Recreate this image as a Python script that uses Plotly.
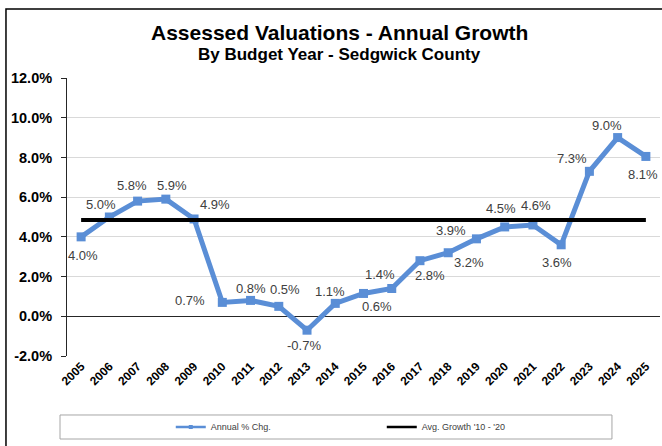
import plotly.graph_objects as go

# ---- data ----
years = ["2005", "2006", "2007", "2008", "2009", "2010", "2011", "2012", "2013", "2014",
         "2015", "2016", "2017", "2018", "2019", "2020", "2021", "2022", "2023", "2024", "2025"]
annual_pct_chg = [4.0, 5.0, 5.8, 5.9, 4.9, 0.7, 0.8, 0.5, -0.7, 0.65,
                  1.15, 1.4, 2.8, 3.2, 3.9, 4.5, 4.6, 3.6, 7.3, 9.0, 8.05]
avg_growth_10_20 = [4.85, 4.85, 4.85, 4.85, 4.85, 4.85, 4.85, 4.85, 4.85, 4.85,
                    4.85, 4.85, 4.85, 4.85, 4.85, 4.85, 4.85, 4.85, 4.85, 4.85, 4.85]
point_labels = ["4.0%", "5.0%", "5.8%", "5.9%", "4.9%", "0.7%", "0.8%", "0.5%", "-0.7%", "1.1%",
                "0.6%", "1.4%", "2.8%", "3.2%", "3.9%", "4.5%", "4.6%", "3.6%", "7.3%", "9.0%", "8.1%"]
y_tick_values = [-2, 0, 2, 4, 6, 8, 10, 12]
y_tick_labels = ["-2.0%", "0.0%", "2.0%", "4.0%", "6.0%", "8.0%", "10.0%", "12.0%"]

# ---- styling ----
FONT = "Liberation Sans, Arial, sans-serif"
BLUE = "#5A8ED6"
# label offsets (pixels: dx right, dy down) for manual data-label placement
label_offsets = [(2, 19), (-8, -13), (-6, -16), (6, -14), (21, -14), (-32, -2), (0, -12),
                 (6, -17), (-3, 15), (-5, -12), (13, 13), (-12, -14), (10, 15), (21, 10),
                 (-25, -8), (-4, -18), (3, -19), (-4, 18), (-17, -13), (-11, -12), (-3, 18)]

fig = go.Figure()
fig.add_trace(go.Scatter(
    x=years, y=annual_pct_chg, mode="lines+markers", name="Annual % Chg.",
    line=dict(color=BLUE, width=5),
    marker=dict(symbol="square", size=9, color=BLUE),
    showlegend=False,
))
fig.add_trace(go.Scatter(
    x=years, y=avg_growth_10_20, mode="lines", name="Avg. Growth '10 - '20",
    line=dict(color="black", width=4),
    showlegend=False,
))
# legend-only entries (thinner sample lines, as in the reference legend)
fig.add_trace(go.Scatter(
    x=[None], y=[None], mode="lines+markers", name="Annual % Chg.",
    line=dict(color=BLUE, width=2.5), marker=dict(symbol="square", size=4, color=BLUE),
))
fig.add_trace(go.Scatter(
    x=[None], y=[None], mode="lines", name="Avg. Growth '10 - '20",
    line=dict(color="black", width=2.5),
))

annotations = []
for i, (v, txt, (dx, dy)) in enumerate(zip(annual_pct_chg, point_labels, label_offsets)):
    annotations.append(dict(
        x=i, y=v, xref="x", yref="y", text=txt, showarrow=False,
        xshift=dx, yshift=-dy, font=dict(family=FONT, size=13, color="#404040"),
    ))

annotations.append(dict(
    text="<b>Assessed Valuations - Annual Growth</b>", xref="paper", yref="paper",
    x=0.46, y=1.165, showarrow=False, xanchor="center", yanchor="middle",
    font=dict(family=FONT, size=21, color="black"),
))
annotations.append(dict(
    text="<b>By Budget Year - Sedgwick County</b>", xref="paper", yref="paper",
    x=0.46, y=1.084, showarrow=False, xanchor="center", yanchor="middle",
    font=dict(family=FONT, size=17, color="black"),
))

shapes = [
    # outer frame
    dict(type="rect", xref="paper", yref="paper", x0=-0.1029, x1=1.02, y0=-0.35, y1=1.2482,
         line=dict(color="black", width=1.5), fillcolor="rgba(0,0,0,0)", layer="below"),
    # legend box
    dict(type="rect", xref="paper", yref="paper", x0=-0.0118, x1=0.919, y0=-0.2986, y1=-0.2122,
         line=dict(color="#A6A6A6", width=1), fillcolor="rgba(0,0,0,0)"),
]

fig.update_layout(
    width=662, height=446,
    margin=dict(l=67, r=2, t=78, b=90),
    paper_bgcolor="white", plot_bgcolor="white",
    showlegend=True,
    legend=dict(orientation="h", x=0.175, y=-0.255, xanchor="left", yanchor="middle",
                font=dict(family=FONT, size=9, color="#404040"),
                entrywidth=166, entrywidthmode="pixels", bgcolor="rgba(0,0,0,0)"),
    annotations=annotations,
    shapes=shapes,
    xaxis=dict(
        type="category", range=[-0.5, len(years) - 0.5], autorange=False,
        showgrid=False, showline=False, zeroline=False,
        tickangle=-45, ticks="", tickfont=dict(family=FONT, size=12, color="black", weight="bold"),
    ),
    yaxis=dict(
        range=[-2, 12], tickvals=y_tick_values, ticktext=y_tick_labels,
        showgrid=True, gridcolor="#D9D9D9", gridwidth=1,
        zeroline=True, zerolinecolor="#262626", zerolinewidth=1,
        showline=True, linecolor="#262626", linewidth=1,
        ticks="outside", ticklen=5, tickcolor="#262626",
        tickfont=dict(family=FONT, size=14.5, color="black", weight="bold"),
        ticklabelstandoff=6,
    ),
)

fig.write_html("out.html", config={"displayModeBar": False},
               post_script="document.body.style.margin='0px';")
